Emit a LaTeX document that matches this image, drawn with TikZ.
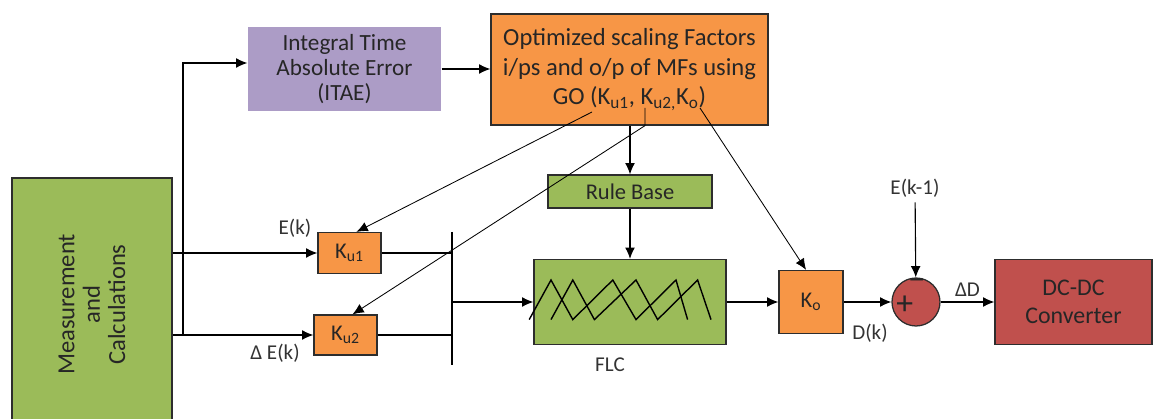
\documentclass[tikz,border=0pt]{standalone}
\usepackage{fontspec}
\setmainfont{Carlito}
\usetikzlibrary{positioning,calc,arrows.meta}
\definecolor{mgreen}{RGB}{155,187,89}
\definecolor{morange}{RGB}{247,150,70}
\definecolor{mpurple}{RGB}{172,156,198}
\definecolor{mred}{RGB}{192,80,77}
\definecolor{mline}{RGB}{45,45,45}

\begin{document}
\begin{tikzpicture}[line width=0.8pt,
  box/.style={draw=mline,line width=0.9pt,align=center,inner sep=2pt,
    font=\fontsize{17}{20}\selectfont,text=black!85},
  lbl/.style={font=\fontsize{15}{17}\selectfont,text=black!80},
  arr/.style={-{Latex[length=8pt,width=7pt]}},
  thin arr/.style={line width=0.6pt,-{Latex[length=8pt,width=7pt]}}]
\useasboundingbox (0,0) rectangle (28.85,10.475);
%\draw[help lines] (0,0) grid (29,11);
\node[box,fill=mgreen,rotate=90,minimum width=6.325cm,minimum height=4cm,
  font=\fontsize{17.5}{18}\selectfont] (meas) at (2.3,2.8625) {Measurement\\and\\Calculations};
\node[box,fill=mpurple,draw=none,minimum width=4.825cm,minimum height=2.1cm,
  font=\fontsize{16.5}{17.5}\selectfont] (itae) at (8.6125,8.75) {Integral Time\\Absolute Error\\(ITAE)};
\node[box,fill=morange,minimum width=6.925cm,minimum height=2.775cm,
  font=\fontsize{17.5}{21}\selectfont] (opt) at (15.7375,8.7375)
  {Optimized scaling Factors\\i/ps and o/p of MFs using\\GO (K\textsubscript{u1}, K\textsubscript{u2,}K\textsubscript{o})};
\node[box,fill=mgreen,minimum width=4.1cm,minimum height=0.825cm,
  font=\fontsize{16}{17}\selectfont] (rule) at (15.75,5.6875) {Rule Base};
\node[box,fill=mgreen,minimum width=4.8cm,minimum height=2.125cm] (flc) at (15.75,2.925) {};
\node[box,fill=morange,minimum width=1.575cm,minimum height=1.025cm,
  font=\fontsize{16}{17}\selectfont] (ku1) at (8.7375,4.15) {K\textsubscript{u1}};
\node[box,fill=morange,minimum width=1.575cm,minimum height=1cm,
  font=\fontsize{16}{17}\selectfont] (ku2) at (8.6375,2.1) {K\textsubscript{u2}};
\node[box,fill=morange,minimum width=1.6cm,minimum height=1.575cm,
  font=\fontsize{16}{17}\selectfont] (ko) at (20.275,2.925) {K\textsubscript{o}};
\node[circle,draw=mline,line width=0.9pt,fill=mred,minimum size=1.2cm,inner sep=0pt] (sum) at (22.9,2.925) {};
\node[box,fill=mred,minimum width=3.925cm,minimum height=2.125cm] (dc) at (26.8375,2.925) {DC-DC\\Converter};

% signs of the summing point
\node[font=\fontsize{24}{24}\selectfont,text=black!85,inner sep=0pt] (plus) at (22.62,2.84) {+};
\node[font=\fontsize{24}{24}\selectfont,text=black!85,inner sep=0pt] (minus) at (22.92,3.37) {\textminus};

% fuzzy sets inside the FLC
\draw[line width=1pt,shift={(flc.center)}] (-2.52,-0.44)--(-1.975,0.55)--(-1.43,-0.44)--(-0.43,0.55)--(0.15,-0.44)--(1.15,0.55)--(1.44,-0.44);
\draw[line width=1pt,shift={(flc.center)}] (-1.975,-0.44)--(-1.43,0.55)--(-0.89,-0.44)--(0.15,0.55)--(0.69,-0.44)--(1.69,0.55)--(2.025,-0.44);

% labels
\node[lbl] (ek) at (7.375,4.775) {E(k)};
\node[lbl] (dek) at (6.875,1.65) {Δ E(k)};
\node[lbl] (dk) at (21.75,2.15) {D(k)};
\node[lbl] (ekm1) at (22.875,5.775) {E(k-1)};
\node[lbl] (flclbl) at (15.25,1.35) {FLC};

\coordinate (tap) at (4.575,2.1);
\coordinate (bustop) at (11.3,4.675);
\coordinate (busbot) at (11.3,1.35);
\coordinate (gku1) at (14.8,7.675);
\coordinate (gku2) at (16.125,7.775);
\coordinate (gko) at (17.5,7.775);

% signal lines
\draw[arr] (meas.south |- ku1) -- (ku1);
\draw[arr] (meas.south |- ku2) -- (ku2);
\draw[arr] (tap) |- ([yshift=0.15cm]itae.west);
\draw[arr] (itae.east) -- (opt.west |- itae.east);
\draw[arr] (rule.north |- opt.south) -- (rule.north);
\draw[arr] (rule) -- (flc);
\draw (bustop) -- (busbot);
\draw (ku1.east) -- (ku1.east -| bustop);
\draw (ku2.east) -- (ku2.east -| bustop);
\draw[arr] (flc -| bustop) -- (flc);
\draw[arr] (flc) -- (ko);
\draw[arr] (ko) -- (sum);
\draw[arr] (ekm1) -- (sum);
\draw[arr] (sum) -- (dc) node[midway,above,lbl] {ΔD};
\draw[thin arr] (gku1) -- ([xshift=5pt]ku1.north);
\draw[thin arr] (gku2) -- (gku2 |- opt.south) -- ([xshift=5pt]ku2.north);
\draw[thin arr] (gko) -- ([xshift=-3.5pt]ko.north);
\end{tikzpicture}
\end{document}
